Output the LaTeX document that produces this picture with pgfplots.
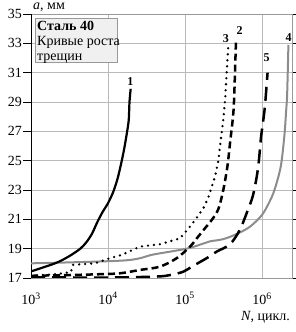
\documentclass[border=0pt]{standalone}
\usepackage{fontspec}
\setmainfont{Liberation Serif}
\usepackage{pgfplots}
\pgfplotsset{compat=1.18}
\begin{document}
\begin{tikzpicture}[x=1pt,y=1pt]
\path[use as bounding box] (0,0) rectangle (295,332);
\begin{axis}[
  at={(31pt,54pt)}, anchor=south west,
  scale only axis, width=261pt, height=264pt,
  xmode=log, xmin=1000, xmax=2.45e6, ymin=17, ymax=35,
  xtick={1e3,1e4,1e5,1e6},
  xticklabels={10\textsuperscript{3},10\textsuperscript{4},10\textsuperscript{5},10\textsuperscript{6}},
  ytick={17,19,...,35},
  yticklabels={17,19,21,23,25,27,29,31,33,35},
  minor tick num=0, xminorticks=false,
  grid=major,
  major grid style={gray!55, line width=0.6pt},
  axis line style={gray!80, line width=0.7pt},
  tick align=outside,
  xtick style={draw=none},
  ytick style={black, line width=0.7pt},
  major tick length=8pt,
  ticklabel style={font=\fontsize{14}{16}\selectfont},
  yticklabel style={inner sep=1pt},
  xticklabel style={yshift=-3pt},
]
\draw[black, line width=0.9pt] (rel axis cs:0,0) -- (rel axis cs:0,1);
% curve 4 (grey solid)
\addplot[gray!90, line width=2pt, smooth] coordinates {
(1000,18.0) (16600,18.2) (38700,18.6) (105000,19.0) (173000,19.35) (211000,19.5)
(314000,19.65) (469000,20.0) (698000,20.5) (1000000,21.3) (1250000,22.2)
(1450000,23.0) (1750000,24.6) (1950000,26.7) (2050000,28.3) (2120000,29.6) (2200000,32.9)};
% curve 1 (solid black)
\addplot[black, line width=2.2pt, smooth] coordinates {
(1000,17.45) (2050,18.0) (3050,18.45) (4370,19.0) (5250,19.45) (6170,20.0)
(7250,20.8) (8500,21.5) (10000,22.1) (11750,22.9) (13500,23.9) (15800,25.5)
(17600,26.9) (18600,27.8) (19000,29.0) (19700,29.9)};
% curve 3 (dotted)
\addplot[black, line width=2.6pt, line cap=round, dash pattern=on 0pt off 6pt] coordinates {
(1000,17.15) (2000,17.25) (3300,17.4) (3500,17.9) (6800,18.0) (10600,18.35)
(15000,18.57) (26000,19.14) (47000,19.3) (86000,19.7) (116000,20.5) (135000,20.95)
(173000,21.75) (201000,22.5) (245000,23.9) (271000,25.0) (291000,26.4)
(314000,27.8) (331000,29.1) (366000,33.0)};
% curve 2 (short dashes)
\addplot[black, line width=2.5pt, dash pattern=on 7pt off 4pt, smooth] coordinates {
(1000,17.15) (3000,17.2) (7000,17.25) (14300,17.32) (26000,17.55) (47000,17.77)
(78000,18.35) (116000,19.14) (142000,19.7) (182000,20.4) (222000,20.95)
(271000,21.7) (314000,23.0) (355000,24.6) (384000,26.2) (416000,27.8)
(433000,29.1) (459000,33.2)};
% curve 5 (long dashes)
\addplot[black, line width=2.5pt, dash pattern=on 14pt off 7pt, smooth] coordinates {
(1000,17.05) (10000,17.03) (42800,17.1) (63800,17.2) (95000,17.43) (122000,17.77)
(191000,18.35) (258000,18.8) (384000,19.3) (517000,20.3) (650000,21.6)
(760000,22.6) (853000,23.9) (910000,25.0) (970000,26.6) (1040000,27.8)
(1094000,28.8) (1180000,31.0)};
% info box
\filldraw[draw=gray!80, fill=gray!12, line width=0.6pt] (rel axis cs:0.0153,0.985) rectangle (rel axis cs:0.3295,0.818);
\node[anchor=north west, align=left, inner sep=0pt, font=\fontsize{14}{15}\selectfont]
  at (rel axis cs:0.023,0.975) {\textbf{Сталь 40}\\Кривые роста\\трещин};
% curve labels
\node[font=\fontsize{12}{12}\selectfont\bfseries] at (axis cs:19500,30.4) {1};
\node[font=\fontsize{12}{12}\selectfont\bfseries] at (axis cs:339000,33.3) {3};
\node[font=\fontsize{12}{12}\selectfont\bfseries] at (axis cs:513000,33.85) {2};
\node[font=\fontsize{12}{12}\selectfont\bfseries] at (axis cs:1150000,32.0) {5};
\node[font=\fontsize{12}{12}\selectfont\bfseries] at (axis cs:2210000,33.4) {4};
\end{axis}
\node[anchor=base west, inner sep=0pt, font=\fontsize{14}{16}\selectfont] at (33,322) {\textit{a}, мм};
\node[anchor=base east, inner sep=0pt, font=\fontsize{14}{16}\selectfont] at (290,12) {\textit{N}, цикл.};
\end{tikzpicture}
\end{document}
